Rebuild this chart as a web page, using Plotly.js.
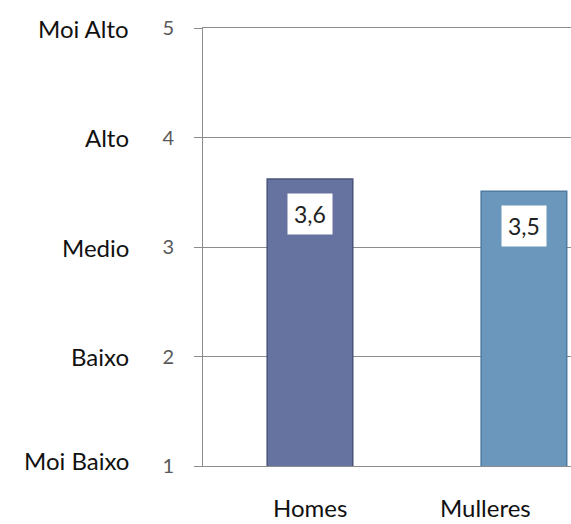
<!DOCTYPE html>
<html>
<head>
<meta charset="utf-8">
<script src="https://cdn.plot.ly/plotly-3.0.1.min.js"></script>
<style>html,body{margin:0;padding:0;background:#fff;}</style>
</head>
<body>
<div id="chart" style="width:571px;height:524px;"></div>
<script>
const categories = ["Homes", "Mulleres"];
const values = [3.62, 3.51];
const levelValues = [1, 2, 3, 4, 5];
const levelNames = ["Moi Baixo", "Baixo", "Medio", "Alto", "Moi Alto"];

const barColors = ["#66729f", "#6a97bb"];
const barLines = ["#4a5379", "#4e7b9f"];
const FONT = "Lato, 'Open Sans', sans-serif";

const trace = {
  type: "bar",
  x: categories,
  y: values,
  marker: { color: barColors, line: { color: barLines, width: 1.5 } },
  hoverinfo: "skip",
  showlegend: false
};

const annotations = [];
// value boxes
categories.forEach((c, i) => {
  annotations.push({
    x: c, y: values[i], xref: "x", yref: "y",
    text: values[i].toFixed(1).replace(".", ","),
    showarrow: false, yanchor: "top", yshift: -14,
    bgcolor: "#ffffff", borderpad: 6,
    font: { family: FONT, size: 23, color: "#222" }
  });
});
// category labels
const catShift = [0, -38];
categories.forEach((c, i) => {
  annotations.push({
    x: c, y: 0, xref: "x", yref: "paper",
    text: c, showarrow: false, yanchor: "middle", yshift: -41, xshift: catShift[i],
    borderpad: 0,
    font: { family: FONT, size: 24, color: "#111" }
  });
});
// level names
levelValues.forEach((v, i) => {
  annotations.push({
    x: 0, xref: "paper", y: v, yref: "y",
    text: levelNames[i], showarrow: false,
    xanchor: "right", xshift: -72,
    yshift: i === 0 ? 6 : 0,
    font: { family: FONT, size: 24, color: "#111" }
  });
});

const layout = {
  width: 571, height: 524,
  margin: { l: 203, r: 0, t: 28, b: 58 },
  paper_bgcolor: "#ffffff", plot_bgcolor: "#ffffff",
  bargap: 0.6,
  xaxis: {
    range: [-0.5, 1.22],
    showticklabels: false, showgrid: false, zeroline: false,
    showline: true, mirror: true, linecolor: "#8c8c8c", linewidth: 1,
    ticks: ""
  },
  yaxis: {
    range: [1, 5],
    tickvals: levelValues,
    ticktext: levelValues.map(String),
    ticks: "outside", ticklen: 8, tickcolor: "#8c8c8c", tickwidth: 1,
    showline: true, linecolor: "#8c8c8c", linewidth: 1,
    showgrid: true, gridcolor: "#8c8c8c", gridwidth: 1,
    zeroline: false,
    ticklabelstandoff: 16,
    tickfont: { family: FONT, size: 20, color: "#595959" }
  },
  annotations: annotations,
  font: { family: FONT }
};

Plotly.newPlot("chart", [trace], layout, { displayModeBar: false, staticPlot: true });
</script>
</body>
</html>
